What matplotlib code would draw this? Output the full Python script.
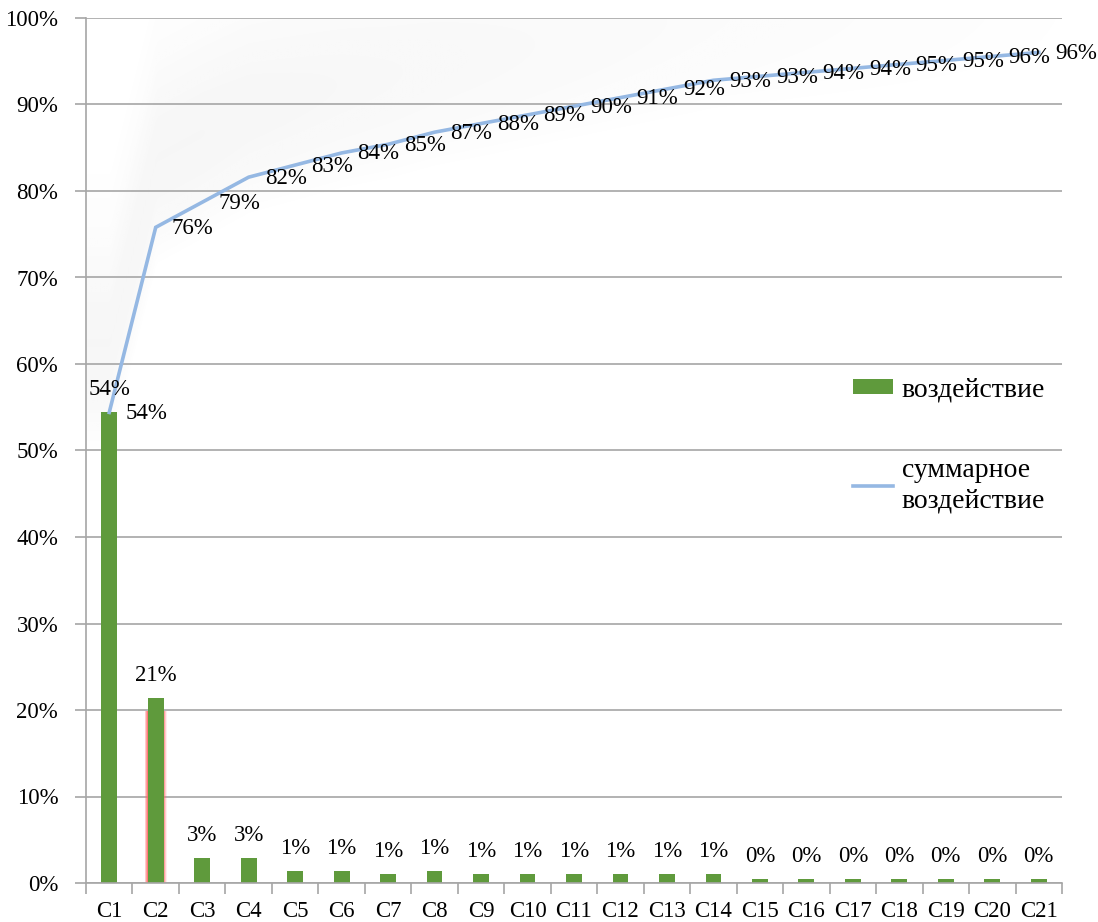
import numpy as np
import matplotlib
matplotlib.use("Agg")
import matplotlib.pyplot as plt
from matplotlib.ticker import FuncFormatter

plt.rcParams['font.family'] = ['Liberation Serif', 'DejaVu Serif']

categories = [f"C{i}" for i in range(1, 22)]
impact = [54.4, 21.4, 2.9, 2.9, 1.4, 1.4, 1.0, 1.4, 1.0, 1.0, 1.0, 1.0, 1.0, 1.0,
          0.46, 0.46, 0.46, 0.46, 0.46, 0.46, 0.46]
cumulative = list(np.cumsum(impact))

bar_label = "воздействие"
line_label = "суммарное\nвоздействие"
yticks = list(range(0, 101, 10))

bar_color = "#5F9A3C"
line_color = "#95B8E3"
grid_color = "#A6A6A6"
fs = 16.5
fs_leg = 20

fig = plt.figure(figsize=(10.98, 9.22), dpi=100)
ax = fig.add_axes([86/1098, 1 - 883/922, (1062 - 86)/1098, (883 - 18)/922])

x = np.arange(len(categories))

# faint grey haze above the cumulative curve
xs = np.linspace(-0.5, len(categories) - 0.5, 400)
ys = np.linspace(0, 100, 400)
XX, YY = np.meshgrid(xs, ys)
curve = np.interp(XX, x, cumulative)
d = YY - curve
mask = np.where(d > 0, np.exp(-((d - 8) / 12) ** 2), np.exp(-(d / 3) ** 2) * 0.5)
fade = np.clip(1.1 - XX / 20.0, 0, 1)
alpha = 0.055 * mask * fade
rgba = np.zeros(XX.shape + (4,))
rgba[..., :3] = 0.4
rgba[..., 3] = alpha
ax.imshow(rgba, extent=(-0.5, len(categories) - 0.5, 0, 100), origin='lower',
          aspect='auto', zorder=0.5, interpolation='bilinear')

ax.set_xlim(-0.5, len(categories) - 0.5)
ax.set_ylim(0, 100)
ax.set_yticks(yticks)
ax.yaxis.set_major_formatter(FuncFormatter(lambda v, p: f"{v:.0f}%"))
ax.grid(axis='y', color=grid_color, linewidth=1.2, zorder=0)
ax.set_axisbelow(True)

# red glow around C2 bar
for w, a in [(0.48, 0.12), (0.44, 0.25), (0.40, 0.45), (0.37, 0.7)]:
    ax.bar(x[1], impact[1] - 1.5, width=w, color='#FF6A6A', alpha=a, zorder=1.5, linewidth=0)
bars = ax.bar(x, impact, width=0.34, color=bar_color, zorder=2, label=bar_label, linewidth=0)
line, = ax.plot(x, cumulative, color=line_color, linewidth=2.6, zorder=3, label=line_label,
                solid_joinstyle='miter')

for xi, v in zip(x, impact):
    ax.annotate(f"{v:.0f}%", (xi, v), xytext=(0, 12), textcoords='offset pixels',
                ha='center', va='bottom', fontsize=fs, zorder=4)
for xi, v in zip(x, cumulative):
    ax.annotate(f"{v:.0f}%", (xi, v), xytext=(16, -1), textcoords='offset pixels',
                ha='left', va='center', fontsize=fs, zorder=4)

ax.set_xticks(x)
ax.set_xticklabels(categories, fontsize=fs)
ax.tick_params(axis='x', which='major', length=0, pad=13)
ax.set_xticks(np.arange(-0.5, len(categories)), minor=True)
ax.tick_params(axis='x', which='minor', length=8, color=grid_color, width=1.2, direction='out')
ax.tick_params(axis='y', length=8, color=grid_color, width=1.2, direction='out', pad=12, labelsize=fs)

for s in ['top', 'right']:
    ax.spines[s].set_visible(False)
for s in ['left', 'bottom']:
    ax.spines[s].set_color(grid_color)
    ax.spines[s].set_linewidth(1.2)

leg = ax.legend(handles=[bars, line], labels=[bar_label, line_label],
                loc='upper left', bbox_to_anchor=((853 - 86)/976, 1 - (377 - 18)/865),
                frameon=False, fontsize=fs_leg, handlelength=1.45, handleheight=0.45,
                labelspacing=2.0, handletextpad=0.3, borderaxespad=0, borderpad=0)
for t in leg.get_texts():
    t.set_linespacing(1.3)

fig.savefig("out.png", dpi=100)
